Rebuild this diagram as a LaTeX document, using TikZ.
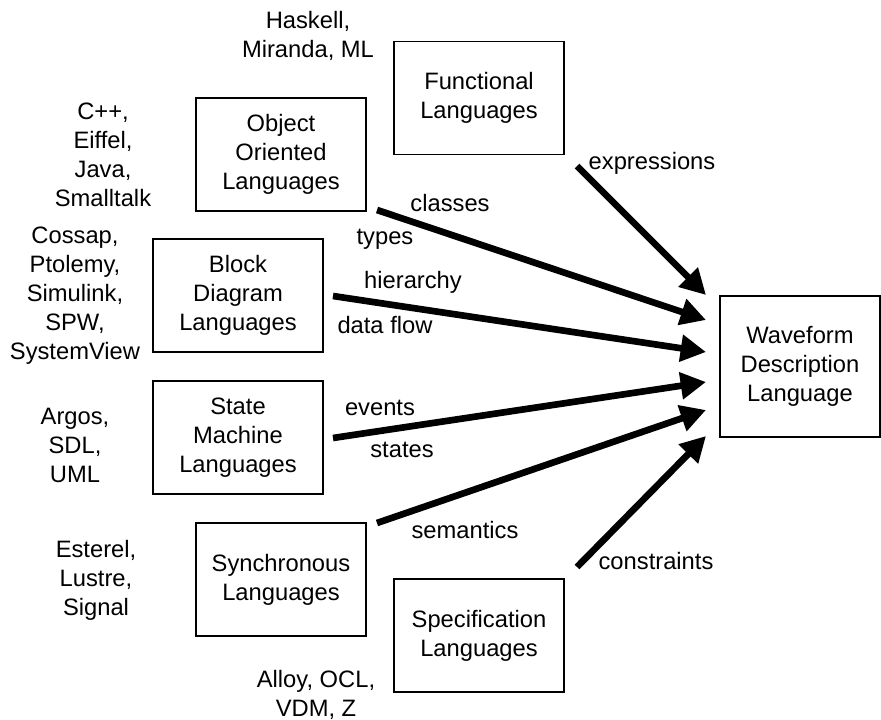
\documentclass[tikz,border=0pt]{standalone}
\usepackage{fontspec}
\setmainfont{Liberation Sans}
\usetikzlibrary{arrows.meta}

\begin{document}
\begin{tikzpicture}[x=0.75pt,y=0.75pt,yscale=-1,xscale=1,
  txt/.style={font=\fontsize{17.8pt}{21.75pt}\selectfont, align=center, inner sep=0pt},
  langbox/.style={txt, draw, line width=0.8pt, minimum width=127.5pt, minimum height=84.75pt},
  flow/.style={line width=5pt, -{Triangle[length=19pt,width=19.5pt]}},
  lbl/.style={txt, anchor=base}]
\useasboundingbox (0,0) rectangle (881,720);

%Shape: Rectangle [id:languages]
\node [langbox] (func) at (479,98) {Functional\\Languages};
\node [langbox] (oo) at (281,154.5) {Object\\Oriented\\Languages};
\node [langbox] (bd) at (238,295.5) {Block\\Diagram\\Languages};
\node [langbox] (sm) at (238,437.5) {State\\Machine\\Languages};
\node [langbox] (sync) at (281,579.5) {Synchronous\\Languages};
\node [langbox] (spec) at (479,635.5) {Specification\\Languages};
%Shape: Rectangle [id:target]
\node [langbox, minimum width=120pt, minimum height=105.75pt] (wdl) at (800,366.5) {Waveform\\Description\\Language};

% Text Node
\node [txt] (ex-func) at (308,36) {Haskell,\\Miranda, ML};
\node [txt] (ex-oo) at (103,155) {C++,\\Eiffel,\\Java,\\Smalltalk};
\node [txt] (ex-bd) at (75,296) {Cossap,\\Ptolemy,\\Simulink,\\SPW,\\SystemView};
\node [txt] (ex-sm) at (75,445) {Argos,\\SDL,\\UML};
\node [txt] (ex-sync) at (96,580) {Esterel,\\Lustre,\\Signal};
\node [txt] (ex-spec) at (316,695) {Alloy, OCL,\\VDM, Z};

%Straight Lines [id:feeds]
\coordinate (s1) at (577,166);
\coordinate (s2) at (377,210);
\coordinate (s3) at (333,296);
\coordinate (s4) at (333,438);
\coordinate (s5) at (377,523);
\coordinate (s6) at (577,567);
\coordinate (t1) at (706,295);
\coordinate (t2) at (706,320);
\coordinate (t3) at (706,352);
\coordinate (t4) at (706,382);
\coordinate (t5) at (706,410);
\coordinate (t6) at (706,436);
\foreach \i in {1,...,6}
  \draw [flow] (s\i) -- (t\i);

% Text Node
\node [lbl] (l-expr) at (652,170) {expressions};
\node [lbl] (l-cls) at (450,212) {classes};
\node [lbl] (l-typ) at (385,245) {types};
\node [lbl] (l-hier) at (413,288) {hierarchy};
\node [lbl] (l-df) at (385,333) {data flow};
\node [lbl] (l-ev) at (380,415) {events};
\node [lbl] (l-st) at (402,457) {states};
\node [lbl] (l-sem) at (465,538) {semantics};
\node [lbl] (l-con) at (656,569) {constraints};

\end{tikzpicture}
\end{document}
